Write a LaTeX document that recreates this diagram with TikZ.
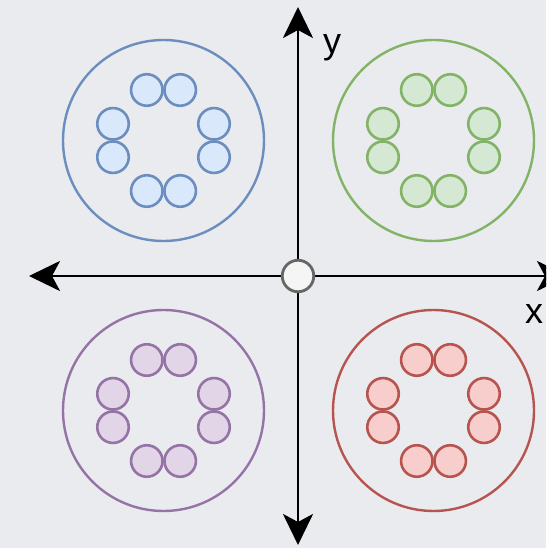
\documentclass[tikz,border=0pt]{standalone}
\usepackage{fontspec}
\setmainfont{Liberation Sans}
\usetikzlibrary{arrows.meta}
\definecolor{bg}{HTML}{E9EBEE}
\definecolor{bluefill}{HTML}{DAE8FC}\definecolor{bluedraw}{HTML}{6C8EBF}
\definecolor{greenfill}{HTML}{D5E8D4}\definecolor{greendraw}{HTML}{82B366}
\definecolor{redfill}{HTML}{F8CECC}\definecolor{reddraw}{HTML}{B85450}
\definecolor{purplefill}{HTML}{E1D5E7}\definecolor{purpledraw}{HTML}{9673A6}
\definecolor{origfill}{HTML}{F5F5F5}\definecolor{origdraw}{HTML}{666666}
\begin{document}
\begin{tikzpicture}[x=1pt,y=-1pt,
  bigring/.style={circle,draw=#1,line width=2.4pt,minimum size=201pt,inner sep=0pt},
  dot/.style={circle,draw=#1draw,fill=#1fill,line width=2.6pt,minimum size=31.5pt,inner sep=0pt},
  axis/.style={line width=2.8pt,-{Stealth[length=31pt,width=30pt,inset=8pt]}},
  lbl/.style={font=\fontsize{36}{40}\selectfont,anchor=base}]
\fill[bg] (0,0) rectangle (546,548);
\useasboundingbox (0,0) rectangle (546,548);
\clip (0,0) rectangle (546,548);
% axes
\coordinate (xl) at (29,276);
\coordinate (xr) at (568,276);
\coordinate (yt) at (298,7);
\coordinate (yb) at (298,545);
\node[circle,minimum size=34pt,inner sep=0pt] (o0) at (298,276) {};
\draw[axis] (o0.center) -- (xl);
\draw[axis] (o0.center) -- (xr);
\draw[axis] (o0.center) -- (yt);
\draw[axis] (o0.center) -- (yb);
\node[circle,draw=origdraw,fill=origfill,line width=2.8pt,minimum size=31.5pt,inner sep=0pt] (o) at (298,276) {};
\node[lbl] (ylab) at (332,54) {y};
\node[lbl] (xlab) at (534,323) {x};
% quadrant groups
\foreach \cx/\cy/\c [count=\i] in {163.5/140.5/blue,433.5/140.5/green,163.5/410.5/purple,433.5/410.5/red}{
  \node[bigring=\c draw] (ring\i) at (\cx,\cy) {};
  \foreach \dx/\dy [count=\j] in {-16.7/-50.5,16.7/-50.5,50.5/-16.7,50.5/16.7,16.7/50.5,-16.7/50.5,-50.5/16.7,-50.5/-16.7}{
    \node[dot=\c] (d\i-\j) at (\cx+\dx,\cy+\dy) {};
  }
}
\end{tikzpicture}
\end{document}
